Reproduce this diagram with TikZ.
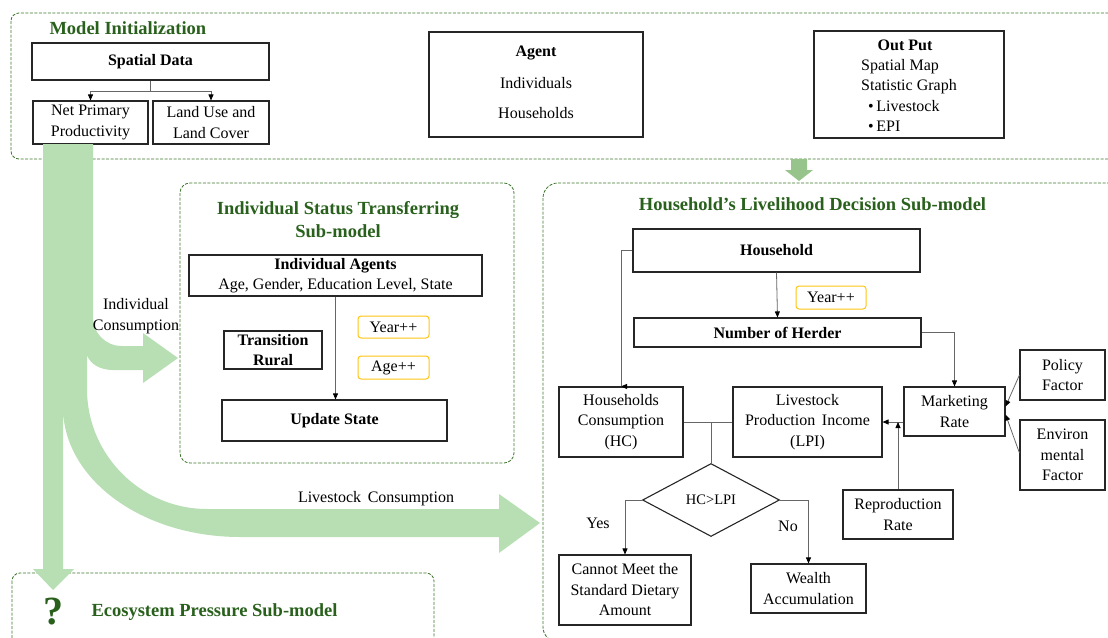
\documentclass[tikz,border=0pt]{standalone}
\usepackage{fontspec}
\setmainfont{Liberation Serif}
\usetikzlibrary{arrows.meta, positioning, calc, shapes.geometric}
\definecolor{titlec}{RGB}{40,96,28}
\definecolor{framec}{RGB}{62,118,44}
\definecolor{flowc}{RGB}{184,223,180}
\definecolor{flowdk}{RGB}{150,196,138}
\definecolor{tickc}{RGB}{255,196,20}
\newcommand{\txt}{\fontsize{16}{20.5}\selectfont}

\begin{document}
\begin{tikzpicture}[x=1pt, y=-1pt,
  box/.style={draw=black!85, line width=1.1pt, inner sep=0pt, align=center, font=\txt},
  bbox/.style={box, font=\txt\bfseries},
  ybox/.style={draw=tickc, line width=1pt, rounded corners=3pt, inner sep=0pt, font=\txt},
  frame/.style={draw=framec, line width=0.85pt, dash pattern=on 3pt off 1.5pt},
  ttl/.style={font=\fontsize{18.5}{23}\selectfont\bfseries, text=titlec, align=center},
  link/.style={draw=black!60, line width=0.8pt},
  arr/.style={link, -{Triangle[length=6pt, width=5pt, color=black]}}]
  \useasboundingbox (0,0) rectangle (1108,637);

  % dashed sub-model frames
  \draw[frame, rounded corners=8pt] (11,13) rectangle (1125,159);
  \draw[frame, rounded corners=10pt] (180,183) rectangle (514,463);
  \draw[frame, rounded corners=15pt] (543,183) rectangle (1125,642);
  \draw[frame, rounded corners=8pt] (12,573) rectangle (434,660);

  % model initialization
  \node[ttl, anchor=west] (mititle) at (46,28) {Model Initialization};
  \node[bbox, minimum width=237pt, minimum height=37pt] (spatial) at (150.5,61.5) {Spatial Data};
  \node[box, minimum width=115pt, minimum height=43pt] (npp) at (90.5,122.5) {Net Primary\\Productivity};
  \node[box, minimum width=116pt, minimum height=43pt] (lulc) at (211,122.5) {Land Use and\\Land Cover};
  \draw[link] (spatial.south) -- ++(0,11) coordinate (split);
  \draw[arr] (split) -| (npp.north);
  \draw[arr] (split) -| (lulc.north);

  \node[box, minimum width=214pt, minimum height=105pt] (agent) at (536,84.5) {};
  \node[font=\txt\bfseries] (agenthd) at (536,53) {Agent};
  \node[font=\txt] (indiv) at (536,83) {Individuals};
  \node[font=\txt] (hhold) at (536,113) {Households};

  \node[box, minimum width=190pt, minimum height=107pt] (output) at (909,84.5) {};
  \node[font=\txt\bfseries] (outhd) at (905,45) {Out Put};
  \node[font=\txt, anchor=west, align=left, inner sep=0pt] (outlist) at (861,95.5)
    {Spatial Map\\Statistic Graph\\\hspace{7pt}\textbullet\,Livestock\\\hspace{7pt}\textbullet\,EPI};

  % individual status transferring
  \node[ttl] (istitle) at (338,219.5) {Individual Status Transferring\\Sub-model};
  \node[box, minimum width=293pt, minimum height=41pt] (agents) at (335.5,275.5)
    {\textbf{Individual Agents}\\Age, Gender, Education Level, State};
  \node[bbox, minimum width=98pt, minimum height=38pt] (rural) at (273,350) {Transition\\Rural};
  \node[ybox, minimum width=71pt, minimum height=22pt] (year1) at (393.5,327) {Year++};
  \node[ybox, minimum width=71pt, minimum height=23pt] (age) at (393.5,367.5) {Age++};
  \node[bbox, minimum width=225pt, minimum height=41pt] (update) at (334.5,420.5) {Update State};
  \draw[arr] (agents.south) -- (agents.south |- update.north);

  % household's livelihood decision
  \node[ttl] (hldtitle) at (812.5,204) {Household's Livelihood Decision Sub-model};
  \node[bbox, minimum width=287pt, minimum height=43pt] (house) at (776.5,250.5) {Household};
  \node[ybox, minimum width=70pt, minimum height=23pt] (year2) at (831,297.5) {Year++};
  \node[bbox, minimum width=287pt, minimum height=29pt] (herder) at (777.5,332.5) {Number of Herder};
  \node[box, minimum width=124pt, minimum height=70pt] (hc) at (621,422) {Households\\Consumption\\(HC)};
  \node[box, minimum width=149pt, minimum height=70pt] (lpi) at (807.5,422) {Livestock\\Production\, Income\\(LPI)};
  \node[box, minimum width=101pt, minimum height=49pt] (market) at (954.5,411.5) {Marketing\\Rate};
  \node[box, minimum width=85pt, minimum height=50pt] (policy) at (1062.5,375) {Policy\\Factor};
  \node[box, minimum width=85pt, minimum height=70pt] (env) at (1062.5,455) {Environ\\mental\\Factor};
  \node[box, minimum width=110pt, minimum height=49pt] (repro) at (898,514.5) {Reproduction\\Rate};
  \node[diamond, draw=black!85, line width=1.1pt, inner sep=0pt, minimum width=137pt,
    minimum height=73pt, font=\fontsize{14.5}{17}\selectfont] (dec) at (711,500) {HC>LPI};
  \node[box, minimum width=132pt, minimum height=70pt] (cannot) at (625,590)
    {Cannot Meet the\\Standard Dietary\\Amount};
  \node[box, minimum width=115pt, minimum height=49pt] (wealth) at (808.5,588.5) {Wealth\\Accumulation};

  \draw[arr] (house.west) -- ++(-11,0) |- ($(hc.north)+(0,0)$);
  \draw[arr] (house.south) -- (herder.north);
  \draw[arr] (herder.east) -| (market.north);
  \draw[arr] (policy.west) -- ([yshift=5pt]market.east);
  \draw[arr] ([yshift=2pt]env.west) -- ([yshift=-3pt]market.east);
  \draw[arr] (lpi.east -| market.west) -- (lpi.east);
  \draw[arr] (repro.north) -- (repro.north |- lpi.east);
  \draw[link] (hc.east) -- (lpi.west);
  \draw[link] (dec.north) -- (dec.north |- hc.east);
  \draw[arr] (dec.west) -| (cannot.north);
  \draw[arr] (dec.east) -| (wealth.north);
  \node[font=\txt] (yes) at (598,523) {Yes};
  \node[font=\txt] (no) at (788,526) {No};

  % flows between the sub-models
  \fill[flowc] (43,144) -- (93,144) -- (93,318)
    .. controls (93,333) and (106,346) .. (121,346) -- (143,346) -- (143,333)
    -- (178,358) -- (143,383) -- (143,370) -- (113,370)
    .. controls (100,370) and (90,364) .. (87,355) -- (87,389)
    .. controls (87,455) and (141,509) .. (207,509) -- (499,509) -- (499,494)
    -- (540,523) -- (499,553) -- (499,537) -- (240,537)
    .. controls (142,537) and (63,479) .. (63,407) -- (63,569) -- (74,569)
    -- (53,590) -- (33,569) -- (43,569) -- cycle;
  \fill[flowdk] (791,159) -- (807,159) -- (807,170) -- (813,170) -- (799,181)
    -- (785,170) -- (791,170) -- cycle;
  \node[font=\txt, align=center] (indcons) at (136,316) {Individual\\Consumption};
  \node[font=\txt] (livcons) at (376,499) {Livestock\, Consumption};

  % ecosystem pressure
  \node[font=\fontsize{40}{40}\selectfont\bfseries, text=titlec] (qmark) at (53,612) {?};
  \node[ttl, anchor=west] (eptitle) at (88,612) {Ecosystem Pressure Sub-model};
\end{tikzpicture}
\end{document}
